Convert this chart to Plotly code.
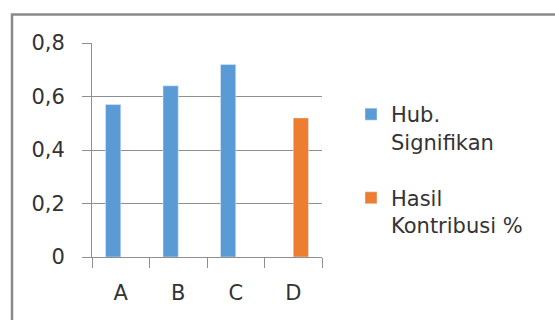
import plotly.graph_objects as go

# Data
categories = ["A", "B", "C", "D"]
hub_signifikan = [0.57, 0.64, 0.72, None]
hasil_kontribusi = [None, None, None, 0.52]
y_ticks = [0, 0.2, 0.4, 0.6, 0.8]
y_tick_labels = ["0", "0,2", "0,4", "0,6", "0,8"]

# Figure geometry (pixels)
W, H = 555, 320
L, R, T, B = 92, 233, 43, 63
PW, PH = W - L - R, H - T - B


def px_x(px):
    return (px - L) / PW


def px_y(py):
    return 1 - (py - T) / PH


GRAY = "#8f8f8f"
TEXT = "#333333"
FONT = "DejaVu Sans"
FS = 21

fig = go.Figure()
fig.add_trace(go.Bar(x=categories, y=hub_signifikan, name="Hub.<br>Signifikan",
                     marker_color="#5B9BD5", legendgroup="a"))
fig.add_trace(go.Bar(x=categories, y=hasil_kontribusi, name="Hasil<br>Kontribusi %",
                     marker_color="#ED7D31", legendgroup="b"))

fig.update_layout(
    width=W, height=H,
    margin=dict(l=L, r=R, t=T, b=B, pad=0),
    paper_bgcolor="white", plot_bgcolor="white",
    barmode="group", bargap=0.47, bargroupgap=0,
    font=dict(family=FONT, size=FS, color=TEXT),
    separators=",.",
    showlegend=True,
    legend=dict(
        x=px_x(351), y=px_y(94), xanchor="left", yanchor="top",
        valign="top", traceorder="grouped", tracegroupgap=26,
        font=dict(family=FONT, size=FS, color=TEXT),
        bgcolor="rgba(0,0,0,0)",
    ),
    xaxis=dict(
        showline=True, linecolor=GRAY, linewidth=1,
        ticks="outside", tickson="boundaries", ticklen=10, tickcolor=GRAY,
        showgrid=False, ticklabelstandoff=17,
        tickfont=dict(family=FONT, size=FS, color=TEXT),
    ),
    yaxis=dict(
        range=[0, 0.8], tickvals=y_ticks, ticktext=y_tick_labels,
        showgrid=True, gridcolor=GRAY, gridwidth=1,
        showline=True, linecolor=GRAY, linewidth=1,
        ticks="outside", ticklen=9, tickcolor=GRAY,
        zeroline=False, ticklabelstandoff=13,
        tickfont=dict(family=FONT, size=FS, color=TEXT),
    ),
    shapes=[dict(
        type="rect", xref="paper", yref="paper", layer="below",
        x0=px_x(12), x1=px_x(700), y0=px_y(500), y1=px_y(14.5),
        line=dict(color="#8a8a8a", width=2.5), fillcolor="rgba(0,0,0,0)",
    )],
)

fig.write_html("out.html")
